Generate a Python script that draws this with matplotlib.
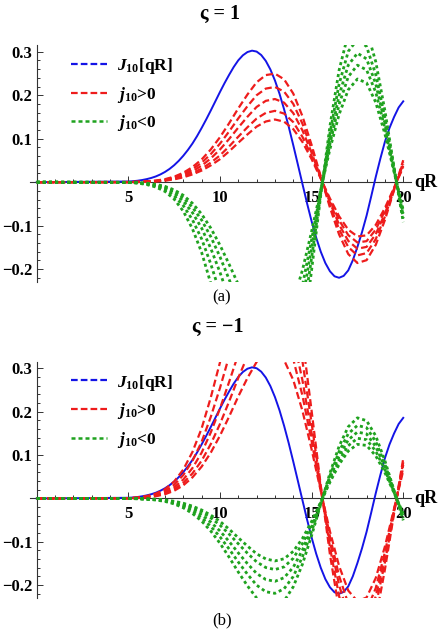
import numpy as np
import matplotlib
matplotlib.use("Agg")
import matplotlib.pyplot as plt
from matplotlib.lines import Line2D
from matplotlib.ticker import FixedLocator, MultipleLocator

plt.rcParams['font.family'] = ['Liberation Serif', 'DejaVu Serif']
plt.rcParams['mathtext.fontset'] = 'custom'
plt.rcParams['mathtext.rm'] = 'Liberation Serif:bold'
plt.rcParams['mathtext.it'] = 'Liberation Serif:italic:bold'
plt.rcParams['mathtext.bf'] = 'Liberation Serif:bold'

# sample points along qR (curves sit on zero from 0 to 5)
qr = np.concatenate([[0.0], np.arange(5.0, 20.01, 0.5)])
qr_fine = np.concatenate([[0.0], np.arange(5.0, 20.01, 0.25)])

# J_10[qR] (quarter steps)
j10 = [0,
       0.0015, 0.0022, 0.0033, 0.0049, 0.0070, 0.0097, 0.0132, 0.0178,
       0.0235, 0.0305, 0.0390, 0.0491, 0.0608, 0.0741, 0.0890, 0.1060,
       0.1247, 0.1444, 0.1650, 0.1862, 0.2075, 0.2279, 0.2470, 0.2650,
       0.2804, 0.2919, 0.2994, 0.3026, 0.3005, 0.2926, 0.2790, 0.2594,
       0.2340, 0.2033, 0.1675, 0.1278, 0.0850, 0.0407, -0.0040, -0.0483,
       -0.0900, -0.1276, -0.1600, -0.1861, -0.2050, -0.2166, -0.2200, -0.2156,
       -0.2030, -0.1796, -0.1490, -0.1151, -0.0770, -0.0331, 0.0120, 0.0539,
       0.0930, 0.1246, 0.1500, 0.1719, 0.1860]

# panel (a), varsigma = 1 : j_10 > 0 (red)
red_a = [
    [0, 0.0003, 0.0007, 0.0018, 0.0036, 0.0069, 0.0126, 0.0216, 0.0347, 0.0522, 0.0753, 0.1034, 0.1356, 0.1698, 0.2017, 0.2298,
     0.2464, 0.2497, 0.2367, 0.2038, 0.1518, 0.0856, 0.0130, -0.0583, -0.1204, -0.1654, -0.1860, -0.1795, -0.1443, -0.0871, -0.0185, 0.0506],
    [0, 0.0002, 0.0006, 0.0015, 0.0031, 0.0059, 0.0108, 0.0185, 0.0297, 0.0448, 0.0646, 0.0886, 0.1167, 0.1467, 0.1749, 0.2001,
     0.2153, 0.2190, 0.2084, 0.1801, 0.1346, 0.0762, 0.0116, -0.0523, -0.1083, -0.1493, -0.1685, -0.1632, -0.1312, -0.0792, -0.0168, 0.0460],
    [0, 0.0002, 0.0005, 0.0013, 0.0026, 0.0050, 0.0092, 0.0157, 0.0252, 0.0379, 0.0547, 0.0751, 0.0994, 0.1256, 0.1505, 0.1731,
     0.1871, 0.1913, 0.1829, 0.1588, 0.1192, 0.0678, 0.0104, -0.0469, -0.0976, -0.1351, -0.1532, -0.1489, -0.1197, -0.0723, -0.0153, 0.0420],
    [0, 0.0002, 0.0004, 0.0011, 0.0022, 0.0041, 0.0075, 0.0129, 0.0207, 0.0311, 0.0449, 0.0616, 0.0822, 0.1046, 0.1264, 0.1464,
     0.1594, 0.1641, 0.1579, 0.1381, 0.1043, 0.0597, 0.0092, -0.0418, -0.0875, -0.1218, -0.1388, -0.1357, -0.1091, -0.0658, -0.0140, 0.0382],
    [0, 0.0001, 0.0003, 0.0009, 0.0018, 0.0035, 0.0065, 0.0111, 0.0178, 0.0267, 0.0386, 0.0529, 0.0709, 0.0907, 0.1099, 0.1278,
     0.1396, 0.1442, 0.1392, 0.1221, 0.0925, 0.0531, 0.0082, -0.0374, -0.0784, -0.1094, -0.1249, -0.1224, -0.0984, -0.0594, -0.0126, 0.0345],
]

# panel (a), varsigma = 1 : j_10 < 0 (green)
green_a = [
    [0, -0.0008, -0.0021, -0.0055, -0.0112, -0.0213, -0.0390, -0.0668, -0.1074, -0.1617, -0.2332, -0.3139, -0.4025, -0.4925, -0.5712, -0.6354,
     -0.6647, -0.6570, -0.6072, -0.5096, -0.3696, -0.2022, -0.0297, 0.1290, 0.2576, 0.3417, 0.3710, 0.3509, 0.2772, 0.1643, 0.0342, -0.0920],
    [0, -0.0006, -0.0017, -0.0044, -0.0090, -0.0172, -0.0315, -0.0540, -0.0867, -0.1306, -0.1884, -0.2548, -0.3284, -0.4040, -0.4712, -0.5273,
     -0.5549, -0.5519, -0.5134, -0.4337, -0.3168, -0.1740, -0.0258, 0.1122, 0.2254, 0.3009, 0.3286, 0.3121, 0.2476, 0.1475, 0.0309, -0.0834],
    [0, -0.0005, -0.0014, -0.0036, -0.0073, -0.0139, -0.0255, -0.0437, -0.0702, -0.1057, -0.1525, -0.2074, -0.2689, -0.3327, -0.3903, -0.4394,
     -0.4653, -0.4657, -0.4361, -0.3709, -0.2728, -0.1510, -0.0225, 0.0988, 0.2001, 0.2693, 0.2968, 0.2836, 0.2263, 0.1356, 0.0286, -0.0776],
    [0, -0.0004, -0.0011, -0.0029, -0.0060, -0.0115, -0.0210, -0.0360, -0.0578, -0.0871, -0.1256, -0.1717, -0.2238, -0.2784, -0.3284, -0.3718,
     -0.3959, -0.3986, -0.3754, -0.3211, -0.2376, -0.1324, -0.0198, 0.0878, 0.1790, 0.2425, 0.2692, 0.2583, 0.2070, 0.1245, 0.0263, -0.0719],
    [0, -0.0004, -0.0009, -0.0025, -0.0051, -0.0097, -0.0177, -0.0303, -0.0487, -0.0734, -0.1058, -0.1449, -0.1890, -0.2354, -0.2780, -0.3150,
     -0.3358, -0.3384, -0.3191, -0.2733, -0.2024, -0.1134, -0.0171, 0.0760, 0.1559, 0.2126, 0.2374, 0.2285, 0.1837, 0.1109, 0.0235, -0.0644],
]

# panel (b), varsigma = -1 : j_10 > 0 (red)
red_b = [
    [0, 0.0008, 0.0021, 0.0055, 0.0112, 0.0213, 0.0390, 0.0668, 0.1074, 0.1617, 0.2332, 0.3139, 0.4025, 0.4925, 0.5712, 0.6354,
     0.6647, 0.6570, 0.6072, 0.5096, 0.3696, 0.2022, 0.0297, -0.1290, -0.2576, -0.3417, -0.3710, -0.3509, -0.2772, -0.1643, -0.0342, 0.0920],
    [0, 0.0006, 0.0017, 0.0044, 0.0090, 0.0172, 0.0315, 0.0540, 0.0867, 0.1306, 0.1884, 0.2548, 0.3284, 0.4040, 0.4712, 0.5273,
     0.5549, 0.5519, 0.5134, 0.4337, 0.3168, 0.1740, 0.0258, -0.1122, -0.2254, -0.3009, -0.3286, -0.3121, -0.2476, -0.1475, -0.0309, 0.0834],
    [0, 0.0005, 0.0014, 0.0036, 0.0073, 0.0139, 0.0255, 0.0437, 0.0702, 0.1057, 0.1525, 0.2074, 0.2689, 0.3327, 0.3903, 0.4394,
     0.4653, 0.4657, 0.4361, 0.3709, 0.2728, 0.1510, 0.0225, -0.0988, -0.2001, -0.2693, -0.2968, -0.2836, -0.2263, -0.1356, -0.0286, 0.0776],
    [0, 0.0004, 0.0011, 0.0029, 0.0060, 0.0115, 0.0210, 0.0360, 0.0578, 0.0871, 0.1256, 0.1717, 0.2238, 0.2784, 0.3284, 0.3718,
     0.3959, 0.3986, 0.3754, 0.3211, 0.2376, 0.1324, 0.0198, -0.0878, -0.1790, -0.2425, -0.2692, -0.2583, -0.2070, -0.1245, -0.0263, 0.0719],
    [0, 0.0004, 0.0009, 0.0025, 0.0051, 0.0097, 0.0177, 0.0303, 0.0487, 0.0734, 0.1058, 0.1449, 0.1890, 0.2354, 0.2780, 0.3150,
     0.3358, 0.3384, 0.3191, 0.2733, 0.2024, 0.1134, 0.0171, -0.0760, -0.1559, -0.2126, -0.2374, -0.2285, -0.1837, -0.1109, -0.0235, 0.0644],
]

# panel (b), varsigma = -1 : j_10 < 0 (green)
green_b = [
    [0, -0.0003, -0.0007, -0.0018, -0.0036, -0.0069, -0.0126, -0.0216, -0.0347, -0.0522, -0.0753, -0.1034, -0.1356, -0.1698, -0.2017, -0.2298,
     -0.2464, -0.2497, -0.2367, -0.2038, -0.1518, -0.0856, -0.0130, 0.0583, 0.1204, 0.1654, 0.1860, 0.1795, 0.1443, 0.0871, 0.0185, -0.0506],
    [0, -0.0002, -0.0006, -0.0015, -0.0031, -0.0059, -0.0108, -0.0185, -0.0297, -0.0448, -0.0646, -0.0886, -0.1167, -0.1467, -0.1749, -0.2001,
     -0.2153, -0.2190, -0.2084, -0.1801, -0.1346, -0.0762, -0.0116, 0.0523, 0.1083, 0.1493, 0.1685, 0.1632, 0.1312, 0.0792, 0.0168, -0.0460],
    [0, -0.0002, -0.0005, -0.0013, -0.0026, -0.0050, -0.0092, -0.0157, -0.0252, -0.0379, -0.0547, -0.0751, -0.0994, -0.1256, -0.1505, -0.1731,
     -0.1871, -0.1913, -0.1829, -0.1588, -0.1192, -0.0678, -0.0104, 0.0469, 0.0976, 0.1351, 0.1532, 0.1489, 0.1197, 0.0723, 0.0153, -0.0420],
    [0, -0.0002, -0.0004, -0.0011, -0.0022, -0.0041, -0.0075, -0.0129, -0.0207, -0.0311, -0.0449, -0.0616, -0.0822, -0.1046, -0.1264, -0.1464,
     -0.1594, -0.1641, -0.1579, -0.1381, -0.1043, -0.0597, -0.0092, 0.0418, 0.0875, 0.1218, 0.1388, 0.1357, 0.1091, 0.0658, 0.0140, -0.0382],
    [0, -0.0001, -0.0003, -0.0009, -0.0018, -0.0035, -0.0065, -0.0111, -0.0178, -0.0267, -0.0386, -0.0529, -0.0709, -0.0907, -0.1099, -0.1278,
     -0.1396, -0.1442, -0.1392, -0.1221, -0.0925, -0.0531, -0.0082, 0.0374, 0.0784, 0.1094, 0.1249, 0.1224, 0.0984, 0.0594, 0.0126, -0.0345],
]

titles = ["ς = 1", "ς = −1"]
captions = ["(a)", "(b)"]
legend_labels = [r"$J_{10}$[qR]", r"$j_{10}$>0", r"$j_{10}$<0"]

BLUE = "#1414e6"
RED = "#ee1c1c"
GREEN = "#1fa21f"


def draw_panel(ax, reds, greens):
    ax.plot(qr_fine, j10, color=BLUE, lw=1.4, zorder=3)
    for ys in reds:
        ax.plot(qr, ys, color=RED, lw=1.6, dashes=(3.2, 1.6), zorder=4)
    for ys in greens:
        ax.plot(qr, ys, color=GREEN, lw=2.0, dashes=(1.1, 1.1), zorder=5)

    ax.set_xlim(-0.35, 20.4)
    ax.set_ylim(-0.229, 0.315)
    ax.spines['top'].set_visible(False)
    ax.spines['right'].set_visible(False)
    ax.spines['left'].set_position(('data', 0))
    ax.spines['bottom'].set_position(('data', 0))
    for s in ('left', 'bottom'):
        ax.spines[s].set_linewidth(0.8)
        ax.spines[s].set_color('#333333')

    ax.xaxis.set_major_locator(FixedLocator([5, 10, 15, 20]))
    ax.xaxis.set_minor_locator(MultipleLocator(1))
    ax.yaxis.set_major_locator(FixedLocator([-0.2, -0.1, 0.1, 0.2, 0.3]))
    ax.yaxis.set_minor_locator(MultipleLocator(0.02))
    ax.tick_params(which='both', direction='in', width=0.7, color='#333333')
    ax.tick_params(which='major', length=4, labelsize=12)
    ax.tick_params(which='minor', length=2.2)
    ax.tick_params(axis='x', which='major', pad=5.5)
    ax.tick_params(axis='y', which='major', pad=3)
    for lbl in ax.get_xticklabels() + ax.get_yticklabels():
        lbl.set_fontweight('bold')

    ax.text(20.6, 0, "qR", fontsize=13, fontweight='bold', ha='left', va='center', clip_on=False)

    handles = [
        Line2D([], [], color=BLUE, lw=1.6, dashes=(3.0, 1.4)),
        Line2D([], [], color=RED, lw=1.6, dashes=(3.0, 1.4)),
        Line2D([], [], color=GREEN, lw=1.8, dashes=(1.6, 1.2)),
    ]
    leg = ax.legend(handles, legend_labels, loc='upper left', bbox_to_anchor=(0.106, 0.955),
                    frameon=False, fontsize=12.5, handlelength=2.1, handletextpad=0.55,
                    labelspacing=0.5, borderpad=0, borderaxespad=0)
    for t in leg.get_texts():
        t.set_fontweight('bold')


fig = plt.figure(figsize=(4.44, 6.34), dpi=100)
ax_a = fig.add_axes([0.0682, 0.5557, 0.8565, 0.3729])
ax_b = fig.add_axes([0.0682, 0.0573, 0.8565, 0.3718])

draw_panel(ax_a, red_a, green_a)
draw_panel(ax_b, red_b, green_b)

fig.text(0.496, 1 - 14 / 634, titles[0], fontsize=14.5, fontweight='bold', ha='center', va='center')
fig.text(0.491, 1 - 327 / 634, titles[1], fontsize=14.5, fontweight='bold', ha='center', va='center')
fig.text(0.5, 1 - 297 / 634, captions[0], fontsize=12, ha='center', va='center')
fig.text(0.5, 1 - 620 / 634, captions[1], fontsize=12, ha='center', va='center')

fig.savefig("out.png", dpi=100)
